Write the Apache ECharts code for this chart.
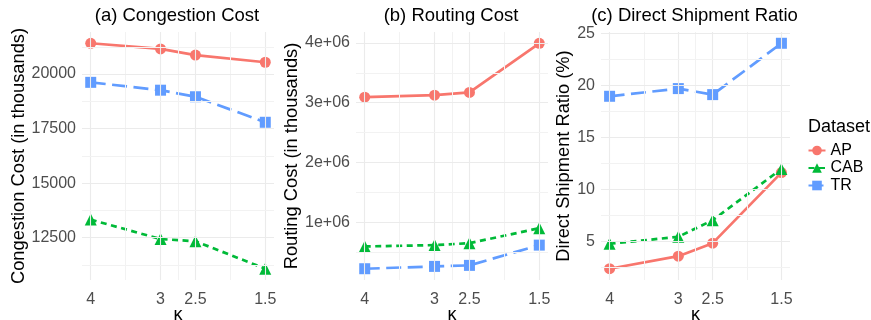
<!DOCTYPE html>
<html>
<head>
<meta charset="utf-8">
<script src="https://cdn.jsdelivr.net/npm/echarts@6/dist/echarts.min.js"></script>
<style>
  html, body { margin: 0; padding: 0; background: #fff; }
  #main { width: 871px; height: 320px; }
</style>
</head>
<body>
<div id="main"></div>
<script>
// kappa values on the x axis (reversed)
const kappa = [4, 3, 2.5, 1.5]
const kappaMinor = [3.5, 2.75, 2]
const datasets = ['AP', 'CAB', 'TR']

// (a) congestion cost, in thousands
const congestionAP = [21410, 21150, 20870, 20540]
const congestionCAB = [13330, 12440, 12340, 11080]
const congestionTR = [19620, 19260, 18960, 17790]
const congestionTicks = [12500, 15000, 17500, 20000]
const congestionMinor = [11250, 13750, 16250, 18750, 21250]

// (b) routing cost
const routingAP = [3093000, 3127000, 3172000, 3995000]
const routingCAB = [595000, 617000, 650000, 900000]
const routingTR = [222000, 261000, 278000, 617000]
const routingTicks = [1000000, 2000000, 3000000, 4000000]
const routingMinor = [500000, 1500000, 2500000, 3500000]

// (c) direct shipment ratio, %
const ratioAP = [2.35, 3.56, 4.81, 11.6]
const ratioCAB = [4.75, 5.42, 7.02, 11.95]
const ratioTR = [18.94, 19.68, 19.1, 24.04]
const ratioTicks = [5, 10, 15, 20, 25]
const ratioMinor = [2.5, 7.5, 12.5, 17.5, 22.5]

const FONT = 'Liberation Sans, Arial, Helvetica, sans-serif'
const colors = { AP: '#F8766D', CAB: '#00BA38', TR: '#619CFF' }
const symbols = { AP: 'circle', CAB: 'triangle', TR: 'rect' }
const dashes = { AP: 'solid', CAB: [6, 4.5], TR: [15, 6.5] }
const sizes = { AP: 11, CAB: 12, TR: 11 }

// ggplot style 5% expansion
function expand(arrs) {
  const all = [].concat(...arrs)
  const lo = Math.min(...all), hi = Math.max(...all)
  const pad = (hi - lo) * 0.05
  return [lo - pad, hi + pad]
}
const xr = expand([kappa])

const panels = [
  { title: '(a) Congestion Cost', yname: 'Congestion Cost (in thousands)', left: 82, width: 192, gap: 51,
    values: [congestionAP, congestionCAB, congestionTR], ticks: congestionTicks, minor: congestionMinor,
    fmt: v => String(v) },
  { title: '(b) Routing Cost', yname: 'Routing Cost (in thousands)', left: 356, width: 192, gap: 52,
    values: [routingAP, routingCAB, routingTR], ticks: routingTicks, minor: routingMinor,
    fmt: v => (v / 1e6) + 'e+06' },
  { title: '(c) Direct Shipment Ratio', yname: 'Direct Shipment Ratio (%)', left: 601, width: 189, gap: 23,
    values: [ratioAP, ratioCAB, ratioTR], ticks: ratioTicks, minor: ratioMinor,
    fmt: v => String(v) }
]

const TOP = 32, HEIGHT = 248

const grid = [], xAxis = [], yAxis = [], series = [], graphic = []

panels.forEach((p, i) => {
  grid.push({ left: p.left, top: TOP, width: p.width, height: HEIGHT, outerBoundsMode: 'none', containLabel: false })
  xAxis.push({
    type: 'value', gridIndex: i, inverse: true, min: xr[0], max: xr[1],
    name: 'κ', nameLocation: 'middle', nameGap: 26, nameMoveOverlap: false,
    nameTextStyle: { color: '#000', fontSize: 18, fontFamily: FONT },
    axisLine: { show: false }, axisTick: { show: false }, splitLine: { show: false },
    axisLabel: { customValues: kappa, formatter: v => String(v), color: '#4D4D4D', fontSize: 16, fontFamily: FONT, margin: 12 }
  })
  const yr = expand(p.values)
  yAxis.push({
    type: 'value', gridIndex: i, min: yr[0], max: yr[1],
    name: p.yname, nameLocation: 'middle', nameGap: p.gap,
    nameTextStyle: { color: '#000', fontSize: 18.3, fontFamily: FONT },
    axisLine: { show: false }, axisTick: { show: false }, splitLine: { show: false },
    axisLabel: { customValues: p.ticks, formatter: p.fmt, color: '#4D4D4D', fontSize: 16, fontFamily: FONT, margin: 6 }
  })
  // panel grid lines
  const major = { color: '#EBEBEB', width: 1.1, type: 'solid' }
  const minor = { color: '#F2F2F2', width: 1, type: 'solid' }
  const lines = []
  kappa.forEach(v => lines.push({ xAxis: v, lineStyle: major }))
  kappaMinor.forEach(v => lines.push({ xAxis: v, lineStyle: minor }))
  p.ticks.forEach(v => lines.push({ yAxis: v, lineStyle: major }))
  p.minor.forEach(v => lines.push({ yAxis: v, lineStyle: minor }))
  series.push({
    name: '_grid' + i, type: 'line', xAxisIndex: i, yAxisIndex: i, data: [], z: 0,
    markLine: { silent: true, animation: false, symbol: ['none', 'none'], label: { show: false }, data: lines }
  })
  datasets.forEach((d, k) => {
    series.push({
      name: d, type: 'line', xAxisIndex: i, yAxisIndex: i, z: 3,
      data: kappa.map((x, j) => [x, p.values[k][j]]),
      symbol: symbols[d], symbolSize: sizes[d], showSymbol: true,
      itemStyle: { color: colors[d] },
      lineStyle: { color: colors[d], width: 2.7, type: dashes[d] },
      animation: false
    })
  })
  graphic.push({
    type: 'text', x: p.left + p.width / 2 - 1, y: 16,
    style: { text: p.title, fill: '#000', font: '18.5px ' + FONT, textAlign: 'center', textVerticalAlign: 'middle' }
  })
})

graphic.push({
  type: 'text', x: 808, y: 127,
  style: { text: 'Dataset', fill: '#000', font: '18px ' + FONT, textAlign: 'left', textVerticalAlign: 'middle' }
})

const chart = echarts.init(document.getElementById('main'))
chart.setOption({
  animation: false,
  grid, xAxis, yAxis, series, graphic,
  legend: {
    data: datasets, orient: 'vertical', left: 807.5, top: 142.5, padding: 0,
    itemWidth: 17, itemHeight: 12, itemGap: 1.5,
    textStyle: { color: '#000', fontSize: 16, fontFamily: FONT, lineHeight: 16 }
  }
})
</script>
</body>
</html>
